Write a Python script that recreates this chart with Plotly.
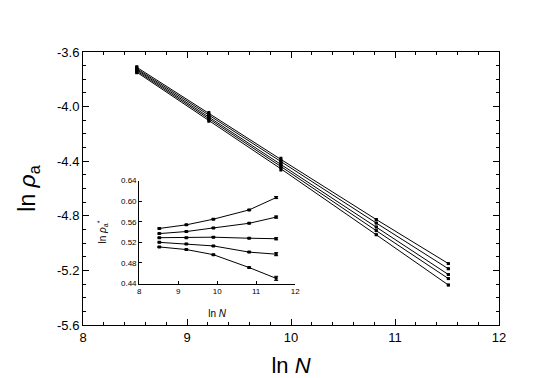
import plotly.graph_objects as go

# x positions: ln N for N = 5000, 10000, 20000, 50000, 100000
ln_n = [8.517, 9.210, 9.903, 10.820, 11.513]

# main panel: ln rho_a, five curves, top to bottom
main_1 = [-3.712, -4.051, -4.387, -4.827, -5.150]
main_2 = [-3.722, -4.064, -4.404, -4.853, -5.188]
main_3 = [-3.730, -4.076, -4.422, -4.882, -5.230]
main_4 = [-3.739, -4.088, -4.439, -4.909, -5.260]
main_5 = [-3.748, -4.099, -4.456, -4.939, -5.307]
main_err = [0.010, 0.014, 0.014, 0.004, 0.003]

# inset: ln rho_a*, same five curves
inset_1 = [0.547, 0.554, 0.565, 0.583, 0.607]
inset_2 = [0.537, 0.541, 0.548, 0.557, 0.569]
inset_3 = [0.529, 0.529, 0.530, 0.528, 0.527]
inset_4 = [0.520, 0.517, 0.513, 0.501, 0.497]
inset_5 = [0.511, 0.506, 0.496, 0.471, 0.450]
inset_err_1 = [0.001, 0.001, 0.001, 0.001, 0.002]
inset_err_2 = [0.001, 0.001, 0.001, 0.001, 0.002]
inset_err_3 = [0.001, 0.001, 0.001, 0.001, 0.002]
inset_err_4 = [0.001, 0.001, 0.001, 0.001, 0.003]
inset_err_5 = [0.001, 0.001, 0.001, 0.001, 0.004]

main_xticks = [8, 9, 10, 11, 12]
main_yticks = [-5.6, -5.2, -4.8, -4.4, -4.0, -3.6]
inset_xticks = [8, 9, 10, 11, 12]
inset_yticks = [0.44, 0.48, 0.52, 0.56, 0.60, 0.64]

FONT = "Liberation Sans, Arial, sans-serif"

fig = go.Figure()

for ys in [main_1, main_2, main_3, main_4, main_5]:
    fig.add_trace(go.Scatter(
        x=ln_n, y=ys, mode="lines+markers",
        line=dict(color="black", width=1),
        marker=dict(symbol="square", size=3, color="black"),
        error_y=dict(type="data", array=main_err, color="black", thickness=1.5, width=1.5),
        xaxis="x", yaxis="y", showlegend=False,
    ))

for ys, err in [(inset_1, inset_err_1), (inset_2, inset_err_2), (inset_3, inset_err_3),
                (inset_4, inset_err_4), (inset_5, inset_err_5)]:
    fig.add_trace(go.Scatter(
        x=ln_n, y=ys, mode="lines+markers",
        line=dict(color="black", width=1),
        marker=dict(symbol="square", size=3, color="black"),
        error_y=dict(type="data", array=err, color="black", thickness=1, width=2),
        xaxis="x2", yaxis="y2", showlegend=False,
    ))

axis_common = dict(
    showline=True, linecolor="black", linewidth=1,
    showgrid=False, zeroline=False,
    tickcolor="black", ticks="inside",
)

fig.update_layout(
    width=545, height=378,
    margin=dict(l=75, r=54, t=44, b=58),
    paper_bgcolor="white", plot_bgcolor="white",
    font=dict(family=FONT, color="black"),
    xaxis=dict(
        **axis_common, domain=[0, 1], range=[8, 12], mirror="allticks",
        tickvals=main_xticks, ticktext=[str(v) for v in main_xticks],
        ticklen=6, tickfont=dict(size=13),
        minor=dict(ticks="inside", ticklen=3, dtick=0.2, tickcolor="black", showgrid=False),
        title=dict(text="ln <i>N</i>", font=dict(size=22), standoff=14),
    ),
    yaxis=dict(
        **axis_common, domain=[0, 1], range=[-5.6, -3.6], mirror="allticks",
        tickvals=main_yticks, ticktext=[f"{v:.1f}" for v in main_yticks],
        ticklen=6, tickfont=dict(size=13),
        minor=dict(ticks="inside", ticklen=3, dtick=0.1, tickcolor="black", showgrid=False),
        title=dict(text="ln <i>ρ</i><sub>a</sub>", font=dict(size=23), standoff=14),
    ),
    xaxis2=dict(
        **axis_common, domain=[0.135, 0.51], range=[8, 12], anchor="y2",
        tickvals=inset_xticks, ticktext=[str(v) for v in inset_xticks],
        ticklen=3, tickfont=dict(size=8),
        title=dict(text="ln <i>N</i>", font=dict(size=10), standoff=14),
    ),
    yaxis2=dict(
        **axis_common, domain=[0.152, 0.529], range=[0.44, 0.64], anchor="x2",
        tickvals=inset_yticks, ticktext=[f"{v:.2f}" for v in inset_yticks],
        ticklen=3, tickfont=dict(size=8),
        title=dict(text="ln <i>ρ</i><sub>a</sub><sup>*</sup>", font=dict(size=10), standoff=12),
    ),
)

fig.write_html("out.html")
